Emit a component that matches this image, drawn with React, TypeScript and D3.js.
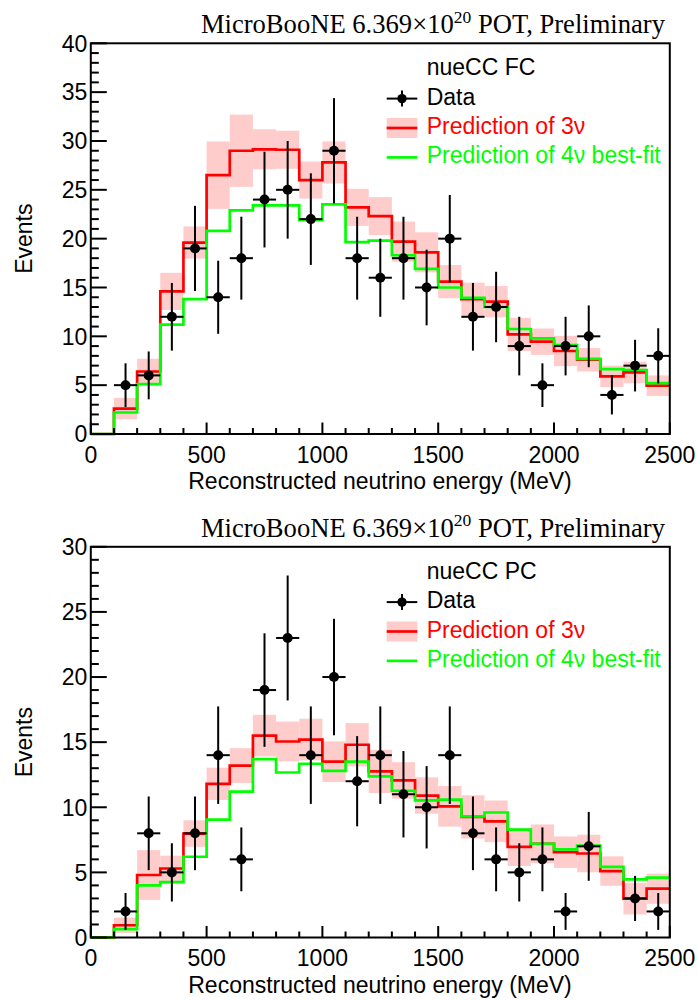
import React from "react";
import * as d3 from "d3";

// Lower edges of the 100 MeV energy bins (last bin ends at 2500 MeV)
const binLow = [
  0, 100, 200, 300, 400, 500, 600, 700, 800, 900, 1000, 1100, 1200, 1300, 1400,
  1500, 1600, 1700, 1800, 1900, 2000, 2100, 2200, 2300, 2400,
];
const xMaxEdge = 2500;

// nueCC FC sample
const fcData = [0, 5, 6, 12, 19, 14, 18, 24, 25, 22, 29, 18, 16, 18, 15, 20, 12, 13, 9, 5, 9, 10, 4, 7, 8];
const fcPred3nu = [0, 2.6, 6.4, 14.6, 19.6, 26.5, 29.0, 29.15, 29.1, 26.0, 27.8, 23.2, 22.3, 19.7, 18.6, 15.6, 13.8, 13.55, 10.2, 9.45, 8.5, 7.6, 5.9, 6.3, 4.95];
const fcPred3nuErr = [0, 1.1, 1.3, 1.9, 1.65, 3.45, 3.7, 2.05, 1.95, 1.9, 2.15, 1.9, 1.95, 2.05, 2.05, 1.7, 1.7, 1.6, 1.7, 1.35, 1.55, 1.2, 1.1, 1.1, 1.05];
const fcPred4nu = [0, 2.2, 5.1, 11.2, 13.8, 20.8, 22.9, 23.4, 23.4, 21.9, 23.5, 19.65, 19.8, 18.3, 16.9, 15.0, 13.95, 13.0, 10.75, 9.8, 9.1, 7.7, 6.65, 6.55, 5.2];

// nueCC PC sample
const pcData = [0, 2, 8, 5, 8, 14, 6, 19, 23, 14, 20, 12, 14, 11, 10, 14, 8, 6, 5, 6, 2, 7, 0, 3, 2];
const pcPred3nu = [0, 0.94, 4.8, 5.3, 7.98, 11.8, 13.2, 15.5, 15.05, 15.2, 13.5, 14.8, 12.75, 12.06, 10.9, 10.07, 9.26, 8.92, 6.96, 7.2, 6.55, 6.45, 5.1, 2.98, 3.75];
const pcPred3nuErr = [0, 0.59, 1.91, 0.98, 1.02, 1.24, 1.34, 1.6, 1.53, 1.6, 1.56, 1.66, 1.66, 1.4, 1.4, 1.56, 1.66, 1.6, 1.47, 1.48, 1.21, 1.44, 1.13, 1.21, 1.16];
const pcPred4nu = [0, 0.64, 4.0, 4.25, 6.2, 9.05, 11.2, 13.7, 12.67, 13.34, 12.8, 13.5, 12.37, 11.27, 10.53, 10.58, 9.3, 9.6, 8.29, 7.2, 6.76, 7.06, 5.43, 4.46, 4.59];

const xMajorTicks = [0, 500, 1000, 1500, 2000, 2500];
const xMinorTicks = [
  100, 200, 300, 400, 600, 700, 800, 900, 1100, 1200, 1300, 1400, 1600, 1700,
  1800, 1900, 2100, 2200, 2300, 2400,
];
const fcYMajorTicks = [0, 5, 10, 15, 20, 25, 30, 35, 40];
const pcYMajorTicks = [0, 5, 10, 15, 20, 25, 30];

const titleMain = "MicroBooNE 6.369\u00d710";
const titleExp = "20";
const titleTail = " POT, Preliminary";
const xTitle = "Reconstructed neutrino energy (MeV)";
const yTitle = "Events";
const legendData = "Data";
const legend3nu = "Prediction of 3\u03bd";
const legend4nu = "Prediction of 4\u03bd best-fit";

const W = 698;
const H = 1000;
const SANS = "'Liberation Sans', Arial, Helvetica, sans-serif";
const SERIF = "'Liberation Serif', 'Times New Roman', serif";
const RED = "#ff0000";
const GREEN = "#00ff00";
const BAND = "#ffcccc";

const xLeft = 90.8;
const xRight = 669.8;
const frameTop = 43.3;
const frameBottom = 434;

const x = d3.scaleLinear().domain([0, xMaxEdge]).range([xLeft, xRight]);

interface PanelProps {
  offset: number;
  yMax: number;
  yMajor: number[];
  label: string;
  data: number[];
  pred3: number[];
  pred3Err: number[];
  pred4: number[];
}

function Panel({ offset, yMax, yMajor, label, data, pred3, pred3Err, pred4 }: PanelProps) {
  const y = d3.scaleLinear().domain([0, yMax]).range([frameBottom, frameTop]);
  const yMinor = d3.range(0, yMax + 1).filter((v) => !yMajor.includes(v));

  const stepLine = (vals: number[]) => {
    const pts: [number, number][] = binLow.map((b, i) => [b, vals[i]]);
    pts.push([xMaxEdge, vals[vals.length - 1]]);
    return d3
      .line<[number, number]>()
      .x((d) => x(d[0]))
      .y((d) => y(d[1]))
      .curve(d3.curveStepAfter)(pts) as string;
  };

  const binHigh = (i: number) => (i + 1 < binLow.length ? binLow[i + 1] : xMaxEdge);
  const center = (i: number) => (binLow[i] + binHigh(i)) / 2;

  const legX0 = 386.7;
  const legX1 = 417.3;
  const legText = 426.7;
  const rows = [75.2, 104.6, 134, 163.4];

  return (
    <g transform={`translate(0,${offset})`}>
      {/* title */}
      <text x={665} y={33.3} textAnchor="end" fontFamily={SERIF} fontSize={26.6} fill="#000">
        {titleMain}
        <tspan dy={-10.8} fontSize={17.5}>
          {titleExp}
        </tspan>
        <tspan dy={10.8}>{titleTail}</tspan>
      </text>

      {/* 3nu uncertainty band */}
      {pred3.map((v, i) =>
        pred3Err[i] > 0 ? (
          <rect
            key={`band${i}`}
            x={x(binLow[i])}
            width={x(binHigh(i)) - x(binLow[i])}
            y={y(v + pred3Err[i])}
            height={y(v - pred3Err[i]) - y(v + pred3Err[i])}
            fill={BAND}
          />
        ) : null
      )}

      {/* predictions */}
      <path d={stepLine(pred3)} fill="none" stroke={RED} strokeWidth={2.7} />
      <path d={stepLine(pred4)} fill="none" stroke={GREEN} strokeWidth={2.7} />

      {/* data with statistical error bars */}
      {data.map((n, i) => {
        if (n <= 0) return null;
        const e = Math.sqrt(n);
        const cx = x(center(i));
        return (
          <g key={`d${i}`}>
            <line x1={x(binLow[i])} x2={x(binHigh(i))} y1={y(n)} y2={y(n)} stroke="#000" strokeWidth={2} />
            <line x1={cx} x2={cx} y1={y(n + e)} y2={y(n - e)} stroke="#000" strokeWidth={2} />
            <circle cx={cx} cy={y(n)} r={5} fill="#000" />
          </g>
        );
      })}

      {/* frame */}
      <rect
        x={xLeft}
        y={frameTop}
        width={xRight - xLeft}
        height={frameBottom - frameTop}
        fill="none"
        stroke="#000"
        strokeWidth={2}
      />

      {/* y axis ticks */}
      {yMajor.map((v) => (
        <g key={`ym${v}`}>
          <line x1={xLeft} x2={xLeft + 16} y1={y(v)} y2={y(v)} stroke="#000" strokeWidth={2} />
          <text
            x={87.3}
            y={y(v)}
            dy="0.36em"
            textAnchor="end"
            fontFamily={SANS}
            fontSize={23}
            fill="#000"
          >
            {v}
          </text>
        </g>
      ))}
      {yMinor.map((v) => (
        <line key={`yn${v}`} x1={xLeft} x2={xLeft + 8} y1={y(v)} y2={y(v)} stroke="#000" strokeWidth={2} />
      ))}

      {/* x axis ticks */}
      {xMajorTicks.map((v) => (
        <g key={`xm${v}`}>
          <line x1={x(v)} x2={x(v)} y1={frameBottom} y2={frameBottom - 11.5} stroke="#000" strokeWidth={2} />
          <text x={x(v)} y={462.5} textAnchor="middle" fontFamily={SANS} fontSize={23} fill="#000">
            {v}
          </text>
        </g>
      ))}
      {xMinorTicks.map((v) => (
        <line key={`xn${v}`} x1={x(v)} x2={x(v)} y1={frameBottom} y2={frameBottom - 6} stroke="#000" strokeWidth={2} />
      ))}

      {/* axis titles */}
      <text x={380} y={489} textAnchor="middle" fontFamily={SANS} fontSize={23} fill="#000">
        {xTitle}
      </text>
      <text
        transform={`translate(31.5,${(frameTop + frameBottom) / 2}) rotate(-90)`}
        textAnchor="middle"
        fontFamily={SANS}
        fontSize={23}
        fill="#000"
      >
        {yTitle}
      </text>

      {/* legend */}
      <text x={legText} y={rows[0]} fontFamily={SANS} fontSize={23} fill="#000">
        {label}
      </text>
      <line x1={legX0} x2={legX1} y1={rows[1] - 6} y2={rows[1] - 6} stroke="#000" strokeWidth={2} />
      <line x1={(legX0 + legX1) / 2} x2={(legX0 + legX1) / 2} y1={rows[1] - 14} y2={rows[1] + 2} stroke="#000" strokeWidth={2} />
      <circle cx={(legX0 + legX1) / 2} cy={rows[1] - 6} r={4.7} fill="#000" />
      <text x={legText} y={rows[1]} fontFamily={SANS} fontSize={23} fill="#000">
        {legendData}
      </text>
      <rect x={legX0} y={rows[2] - 16} width={legX1 - legX0} height={20} fill={BAND} />
      <line x1={legX0} x2={legX1} y1={rows[2] - 6} y2={rows[2] - 6} stroke={RED} strokeWidth={2.7} />
      <text x={legText} y={rows[2]} fontFamily={SANS} fontSize={23} fill={RED}>
        {legend3nu}
      </text>
      <line x1={legX0} x2={legX1} y1={rows[3] - 6} y2={rows[3] - 6} stroke={GREEN} strokeWidth={2.7} />
      <text x={legText} y={rows[3]} fontFamily={SANS} fontSize={23} fill={GREEN}>
        {legend4nu}
      </text>
    </g>
  );
}

export default function App() {
  return (
    <svg
      width={W}
      height={H}
      viewBox={`0 0 ${W} ${H}`}
      style={{ position: "absolute", left: 0, top: 0, background: "#fff" }}
    >
      <rect width={W} height={H} fill="#fff" />
      <Panel
        offset={0}
        yMax={40}
        yMajor={fcYMajorTicks}
        label="nueCC FC"
        data={fcData}
        pred3={fcPred3nu}
        pred3Err={fcPred3nuErr}
        pred4={fcPred4nu}
      />
      <Panel
        offset={503.5}
        yMax={30}
        yMajor={pcYMajorTicks}
        label="nueCC PC"
        data={pcData}
        pred3={pcPred3nu}
        pred3Err={pcPred3nuErr}
        pred4={pcPred4nu}
      />
    </svg>
  );
}
